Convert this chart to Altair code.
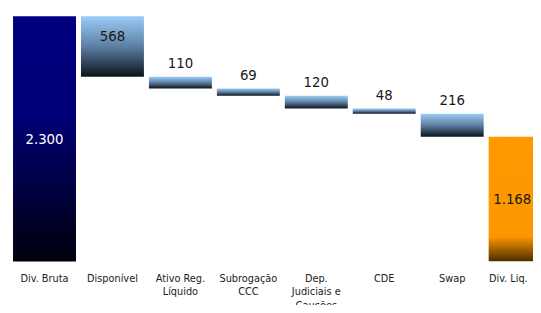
import altair as alt
import pandas as pd

categories = ["Div. Bruta", "Disponível", "Ativo Reg.\nLíquido", "Subrogação\nCCC",
              "Dep.\nJudiciais e\nCauções", "CDE", "Swap", "Div. Liq."]
values = [2300, 568, 110, 69, 120, 48, 216, 1168]
value_labels = ["2.300", "568", "110", "69", "120", "48", "216", "1.168"]
kinds = ["start", "step", "step", "step", "step", "step", "step", "end"]

# waterfall geometry
rows = []
running = 0
for cat, v, lab, k in zip(categories, values, value_labels, kinds):
    if k == "start":
        lo, hi = 0, v
        running = v
    elif k == "end":
        lo, hi = 0, v
    else:
        hi = running
        lo = running - v
        running = lo
    rows.append({"cat": cat, "lo": lo, "hi": hi, "mid": (lo + hi) / 2,
                 "label": lab, "kind": k,
                 "inside": (k == "step" and hi >= values[0])})
df = pd.DataFrame(rows)

FONT = "Arial Narrow, DejaVu Sans Condensed, Liberation Sans, sans-serif"
ymax = values[0] * 255 / 249
yscale = alt.Scale(domain=[0, ymax], nice=False)

x = alt.X("cat:N", sort=categories,
          scale=alt.Scale(range=[0, 557], paddingInner=0.0735, paddingOuter=0.074),
          axis=alt.Axis(title=None, labelAngle=0, domain=False, ticks=False, grid=False,
                        labelFont=FONT, labelFontSize=11, labelColor="#222222",
                        labelPadding=11, labelLineHeight=14,
                        labelOffset={"condition": {"test": "datum.value == 'Div. Liq.'", "value": -12},
                                     "value": 0},
                        labelExpr="split(datum.label, '\\n')", labelBaseline="top"))
y = alt.Y("lo:Q", scale=yscale, axis=None)

base = alt.Chart(df).encode(x=x)

g_start = alt.Gradient(gradient="linear", x1=0, y1=0, x2=0, y2=1, stops=[
    alt.GradientStop(color="#000080", offset=0),
    alt.GradientStop(color="#000078", offset=0.4),
    alt.GradientStop(color="#00000c", offset=1)])
g_step = alt.Gradient(gradient="linear", x1=0, y1=0, x2=0, y2=1, stops=[
    alt.GradientStop(color="#9ccdfa", offset=0),
    alt.GradientStop(color="#5d7fa3", offset=0.5),
    alt.GradientStop(color="#0b121c", offset=1)])
g_end = alt.Gradient(gradient="linear", x1=0, y1=0, x2=0, y2=1, stops=[
    alt.GradientStop(color="#ff9900", offset=0),
    alt.GradientStop(color="#fd9700", offset=0.8),
    alt.GradientStop(color="#4a2e00", offset=1)])

bars_start = base.transform_filter("datum.kind == 'start'").mark_bar(color=g_start).encode(
    y=y, y2="hi:Q")
bars_step = base.transform_filter("datum.kind == 'step'").mark_bar(color=g_step).encode(
    y=y, y2="hi:Q")
bars_end = base.transform_filter("datum.kind == 'end'").mark_bar(color=g_end, clip=True).encode(
    y=y, y2="hi:Q")

txt_mid_start = base.transform_filter("datum.kind == 'start'").mark_text(
    font=FONT, fontSize=15, color="#ffffff").encode(
    y=alt.Y("mid:Q", scale=yscale, axis=None), text="label:N")
txt_mid_end = base.transform_filter("datum.kind == 'end'").mark_text(
    font=FONT, fontSize=15, color="#1a1a1a", dx=-8).encode(
    y=alt.Y("mid:Q", scale=yscale, axis=None), text="label:N")
txt_in = base.transform_filter("datum.inside").mark_text(
    font=FONT, fontSize=15, color="#1a1a1a", baseline="top", dy=13).encode(
    y=alt.Y("hi:Q", scale=yscale, axis=None), text="label:N")
txt_out = base.transform_filter("datum.kind == 'step' && !datum.inside").mark_text(
    font=FONT, fontSize=15, color="#1a1a1a", baseline="bottom", dy=-6).encode(
    y=alt.Y("hi:Q", scale=yscale, axis=None), text="label:N")

chart = alt.layer(bars_start, bars_step, bars_end, txt_mid_start, txt_mid_end, txt_in, txt_out).properties(
    width=533, height=255,
    autosize=alt.AutoSizeParams(type="none"),
    padding={"left": 0, "top": 0, "right": 0, "bottom": 42},
    background="#ffffff",
).configure_view(stroke=None)

chart.save("out.html", embed_options={"renderer": "svg", "actions": False})
